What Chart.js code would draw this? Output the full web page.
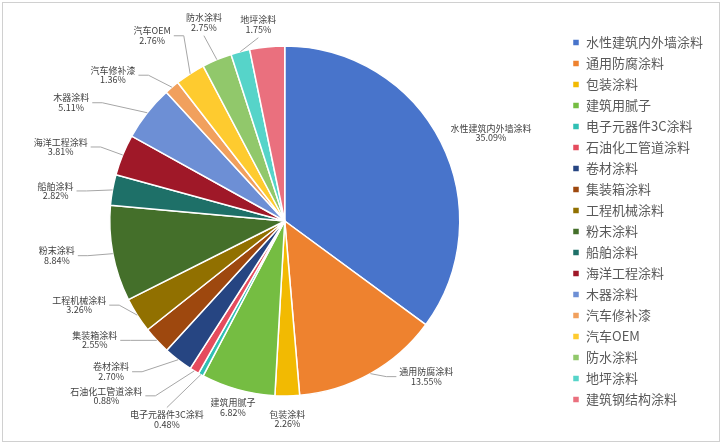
<!DOCTYPE html>
<html>
<head>
<meta charset="utf-8">
<script src="https://cdn.jsdelivr.net/npm/chart.js@4.4.0/dist/chart.umd.min.js"></script>
<style>
    html, body { margin: 0; padding: 0; background: #fff; }
    #wrap { width: 725px; height: 448px; }
</style>
</head>
<body>
<div id="wrap"><canvas id="myChart" width="725" height="448"></canvas></div>
<script>
const categories = [
    '水性建筑内外墙涂料', '通用防腐涂料', '包装涂料', '建筑用腻子', '电子元器件3C涂料',
    '石油化工管道涂料', '卷材涂料', '集装箱涂料', '工程机械涂料', '粉末涂料',
    '船舶涂料', '海洋工程涂料', '木器涂料', '汽车修补漆', '汽车OEM',
    '防水涂料', '地坪涂料', '建筑钢结构涂料'
];
// share of total, %
const shares = [
    35.09, 13.55, 2.26, 6.82, 0.48,
    0.88, 2.70, 2.55, 3.26, 8.84,
    2.82, 3.81, 5.11, 1.36, 2.76,
    2.75, 1.75, 3.21
];
// the original shows no data label on this slice
const unlabelled = ['建筑钢结构涂料'];

const sliceColors = [
    '#4874CB', '#EE822F', '#F2BA02', '#75BD42', '#30C0B4',
    '#E54C5E', '#264582', '#9E480E', '#917000', '#446F2A',
    '#1E7068', '#9F1828', '#6D8FD5', '#F1A05D', '#FECB2F',
    '#91C86B', '#56D4C9', '#EA707E'
];
// where each data label sits, relative to the middle of its slice's rim
const labelNudge = [
    [50, -9], [56, 3], [0, 23], [-5, 18], [-34, 45],
    [-88, 25], [-67, 12], [-62, 0], [-58, -10], [-56, 2],
    [-57, 1], [-62, -8], [-76, -10], [-59, -12], [-38, -38],
    [-13, -37], [18, -27], [0, 0]
];

const frame = {
    id: 'frame',
    beforeDraw(chart) {
        const ctx = chart.ctx;
        ctx.save();
        ctx.strokeStyle = '#d0d0d0';
        ctx.lineWidth = 1;
        ctx.strokeRect(2.5, 2.5, 717, 439);
        ctx.restore();
    }
};

const sliceLabels = {
    id: 'sliceLabels',
    afterDatasetsDraw(chart) {
        const ctx = chart.ctx;
        const meta = chart.getDatasetMeta(0);
        ctx.save();
        ctx.font = '9px "Noto Sans CJK SC"';
        ctx.fillStyle = '#404040';
        ctx.strokeStyle = '#a6a6a6';
        ctx.lineWidth = 1;
        ctx.textAlign = 'center';
        ctx.textBaseline = 'middle';
        meta.data.forEach((arc, i) => {
            if (unlabelled.includes(categories[i])) return;
            const p = arc.getProps(['x', 'y', 'startAngle', 'endAngle', 'outerRadius'], true);
            const mid = (p.startAngle + p.endAngle) / 2;
            const ex = p.x + Math.cos(mid) * p.outerRadius;
            const ey = p.y + Math.sin(mid) * p.outerRadius;
            const dx = labelNudge[i][0], dy = labelNudge[i][1];
            const cx = ex + dx, cy = ey + dy;
            const line1 = categories[i];
            const line2 = shares[i].toFixed(2) + '%';
            const w = Math.max(ctx.measureText(line1).width, ctx.measureText(line2).width);
            const left = cx - w / 2, right = cx + w / 2;
            const top = cy - 10, bottom = cy + 10;
            const gx = Math.max(left - ex, 0, ex - right);
            const gy = Math.max(top - ey, 0, ey - bottom);
            if (Math.hypot(gx, gy) > 15) {
                ctx.beginPath();
                ctx.moveTo(ex, ey);
                if (Math.abs(dx) > w / 2 + 8) {
                    const sx = dx < 0 ? right + 3 : left - 3;
                    const kx = dx < 0 ? sx + 10 : sx - 10;
                    ctx.lineTo(kx, cy);
                    ctx.lineTo(sx, cy);
                } else {
                    ctx.lineTo(cx, dy < 0 ? bottom + 3 : top - 2);
                }
                ctx.stroke();
            }
            ctx.fillText(line1, cx, cy - 4.7);
            ctx.fillText(line2, cx, cy + 4.7);
        });
        ctx.restore();
    }
};

const ctx = document.getElementById('myChart').getContext('2d');

new Chart(ctx, {
    type: 'pie',
    data: {
        labels: categories,
        datasets: [{
            data: shares,
            backgroundColor: sliceColors,
            borderColor: '#ffffff',
            borderWidth: 1.5,
            radius: 175
        }]
    },
    options: {
        responsive: false,
        animation: false,
        layout: {
            padding: { left: 5, right: 12, top: 10, bottom: 16 }
        },
        plugins: {
            legend: {
                position: 'right',
                labels: {
                    boxWidth: 7,
                    boxHeight: 7,
                    padding: 8,
                    color: '#595959',
                    font: { size: 13, family: '"Noto Sans CJK SC"' }
                }
            },
            tooltip: { enabled: false }
        }
    },
    plugins: [frame, sliceLabels]
});
</script>
</body>
</html>
